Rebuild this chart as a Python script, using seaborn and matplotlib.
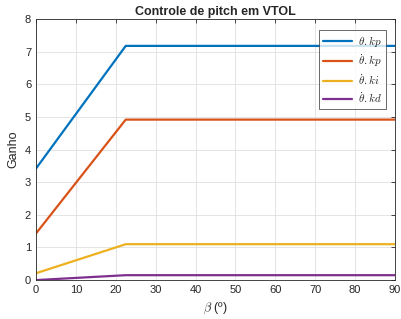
import matplotlib
matplotlib.use("Agg")
import matplotlib.pyplot as plt
import seaborn as sns
import pandas as pd

beta = [0, 22.5, 90]
theta_kp = [3.42, 7.18, 7.18]
thetadot_kp = [1.43, 4.92, 4.92]
thetadot_ki = [0.21, 1.10, 1.10]
thetadot_kd = [0.0, 0.15, 0.15]
labels = [r"$\theta.kp$", r"$\dot{\theta}.kp$", r"$\dot{\theta}.ki$", r"$\dot{\theta}.kd$"]
colors = ["#0072BD", "#D95319", "#EDB120", "#7E2F8E"]

sns.set_style("white")
plt.rcParams["font.family"] = ["Liberation Sans", "DejaVu Sans"]
plt.rcParams["mathtext.fontset"] = "cm"

rows = []
for lab, ys in zip(labels, [theta_kp, thetadot_kp, thetadot_ki, thetadot_kd]):
    for x, y in zip(beta, ys):
        rows.append({"beta": x, "gain": y, "series": lab})
df = pd.DataFrame(rows)

fig = plt.figure(figsize=(4.01, 3.19), dpi=100)
ax = fig.add_axes([0.0898, 0.122, 0.895, 0.818])
sns.lineplot(data=df, x="beta", y="gain", hue="series", palette=colors,
             hue_order=labels, ax=ax, linewidth=1.6)
ax.set_xlim(0, 90)
ax.set_ylim(0, 8)
ax.set_xticks(range(0, 91, 10))
ax.set_yticks(range(0, 9))
ax.grid(True, color="#dfdfdf", linewidth=0.6)
for s in ax.spines.values():
    s.set_color("#262626")
    s.set_linewidth(0.6)
ax.tick_params(axis="both", labelsize=8, colors="#262626", length=3, direction="in",
               top=True, right=True, width=0.6)
ax.set_xlabel(r"$\beta$ (º)", fontsize=9, color="#262626")
ax.set_ylabel("Ganho", fontsize=9, color="#262626")
ax.set_title("Controle de pitch em VTOL", fontsize=9, fontweight="bold", pad=3)
leg = ax.legend(loc="upper right", bbox_to_anchor=(0.975, 0.96), fontsize=8,
                frameon=True, fancybox=False, edgecolor="#262626",
                borderaxespad=0.0, handlelength=2.6, labelspacing=0.3,
                borderpad=0.4, handletextpad=0.5)
leg.get_frame().set_linewidth(0.6)
fig.savefig("out.png", dpi=100)
